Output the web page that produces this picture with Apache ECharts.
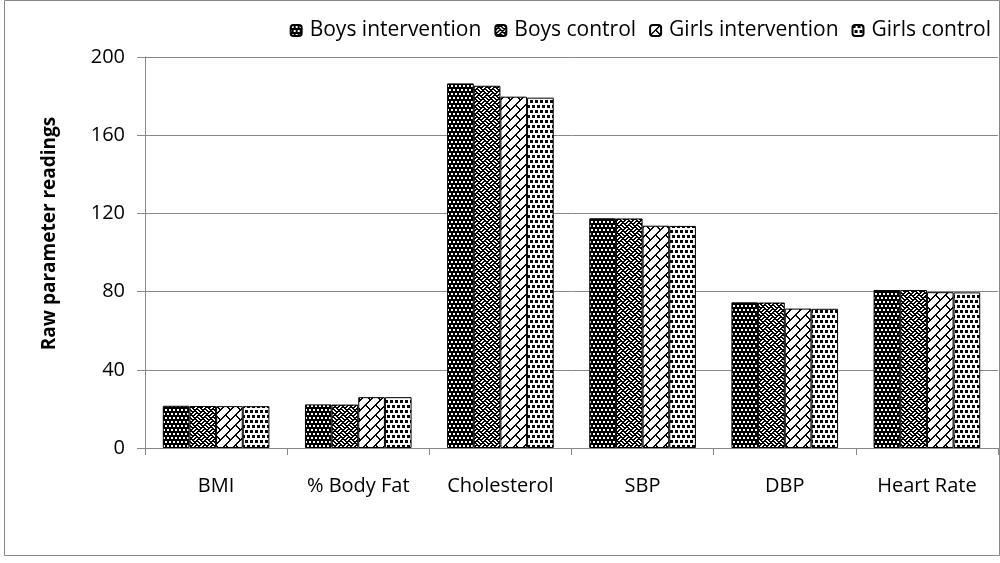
<!DOCTYPE html>
<html>
<head>
<meta charset="utf-8">
<script src="https://cdn.jsdelivr.net/npm/echarts@6/dist/echarts.min.js"></script>
<style>
  html, body { margin: 0; padding: 0; background: #fff; }
  #chart { width: 1000px; height: 563px; }
</style>
</head>
<body>
<div id="chart"></div>
<script>
// categories and readings
var categories = ['BMI', '% Body Fat', 'Cholesterol', 'SBP', 'DBP', 'Heart Rate'];
var seriesNames = ['Boys intervention', 'Boys control', 'Girls intervention', 'Girls control'];
var boysIntervention = [21.6, 22.3, 186.5, 117.5, 74.5, 80.8];
var boysControl = [21.5, 22.2, 185.3, 117.4, 74.4, 80.8];
var girlsIntervention = [21.4, 26.0, 179.7, 113.7, 71.3, 79.7];
var girlsControl = [21.4, 26.0, 179.2, 113.6, 71.2, 79.6];
var yTicks = [0, 40, 80, 120, 160, 200];

/*
 * pattern tiles (small bitmaps like the office fills)
 * thick: also paint the pixel to the right, so thin lines get darker
 */
function bitmapTile(rows, bg, fg, thick) {
    var c = document.createElement('canvas');
    var w = rows[0].length, h = rows.length;
    c.width = w;
    c.height = h;
    var ctx = c.getContext('2d');
    ctx.fillStyle = bg;
    ctx.fillRect(0, 0, w, h);
    ctx.fillStyle = fg;
    for (var y = 0; y < h; y++) {
        for (var x = 0; x < w; x++) {
            if (rows[y].charAt(x) === 'X') {
                ctx.fillRect(x, y, 1, 1);
                if (thick) ctx.fillRect((x + 1) % w, y, 1, 1);
            }
        }
    }
    return c;
}

// black with white dots
var tileDots = bitmapTile([
    '........',
    '.XX..XX.',
    '.XX..XX.',
    '........',
    '........',
    'X..XX..X',
    'X..XX..X',
    '........'
], '#000', '#fff', false);

// weave
var tileWeave = bitmapTile([
    'X...X...',
    '.X.X.X..',
    '..X...X.',
    '.X.X...X',
    'X...X...',
    '...X.X.X',
    '..X...X.',
    '.X...X.X'
], '#fff', '#000', true);

// diagonal brick
var tileBrick = bitmapTile([
    '.........X',
    '........X.',
    '.......X..',
    '......X...',
    '.....X....',
    '....XX....',
    '...X..X...',
    '..X....X..',
    '.X......X.',
    'X........X'
], '#fff', '#000', true);

// white with black squares
var tileSquares = bitmapTile([
    'XXX..XXX..',
    'XXX..XXX..',
    'XXX..XXX..',
    '..........',
    '..........',
    '..XXX..XXX',
    '..XXX..XXX',
    '..XXX..XXX',
    '..........',
    '..........'
], '#fff', '#000', false);

var tiles = [tileDots, tileWeave, tileBrick, tileSquares];
var values = [boysIntervention, boysControl, girlsIntervention, girlsControl];

var series = [];
for (var i = 0; i < seriesNames.length; i++) {
    series.push({
        name: seriesNames[i],
        type: 'bar',
        data: values[i],
        barGap: 0,
        barCategoryGap: '25%',
        itemStyle: {
            color: {image: tiles[i], repeat: 'repeat'},
            borderColor: '#000',
            borderWidth: 1
        }
    });
}

var chart = echarts.init(document.getElementById('chart'));
var option = {
    animation: false,
    backgroundColor: '#fff',
    textStyle: {fontFamily: 'Open Sans', color: '#000'},
    legend: {
        right: 4,
        top: 15,
        itemWidth: 11,
        itemHeight: 11,
        itemGap: 13,
        textStyle: {fontFamily: 'Open Sans', fontSize: 21, color: '#000', padding: [0, 0, 0, 3]},
        data: seriesNames
    },
    grid: {
        left: 145,
        right: 2,
        top: 57,
        bottom: 115
    },
    xAxis: {
        type: 'category',
        data: categories,
        axisLine: {lineStyle: {color: '#888'}},
        axisTick: {show: true, length: 7, lineStyle: {color: '#888'}},
        axisLabel: {margin: 28, fontSize: 20, color: '#000', fontFamily: 'Open Sans'}
    },
    yAxis: {
        type: 'value',
        min: yTicks[0],
        max: yTicks[yTicks.length - 1],
        interval: 40,
        name: 'Raw parameter readings',
        nameLocation: 'middle',
        nameGap: 86,
        nameTextStyle: {fontSize: 19, fontWeight: 'bold', color: '#000', fontFamily: 'Open Sans', padding: [0, 0, 0, 38]},
        axisLine: {show: true, lineStyle: {color: '#888'}},
        axisTick: {show: true, inside: false, length: 8, lineStyle: {color: '#888'}},
        axisLabel: {margin: 20, fontSize: 20, color: '#000', fontFamily: 'Open Sans'},
        splitLine: {lineStyle: {color: '#888'}}
    },
    graphic: [
        {
            type: 'rect',
            left: 2,
            top: -2,
            shape: {width: 995, height: 555},
            style: {fill: 'none', stroke: '#888', lineWidth: 1}
        }
    ],
    series: series
};
chart.setOption(option);
</script>
</body>
</html>
